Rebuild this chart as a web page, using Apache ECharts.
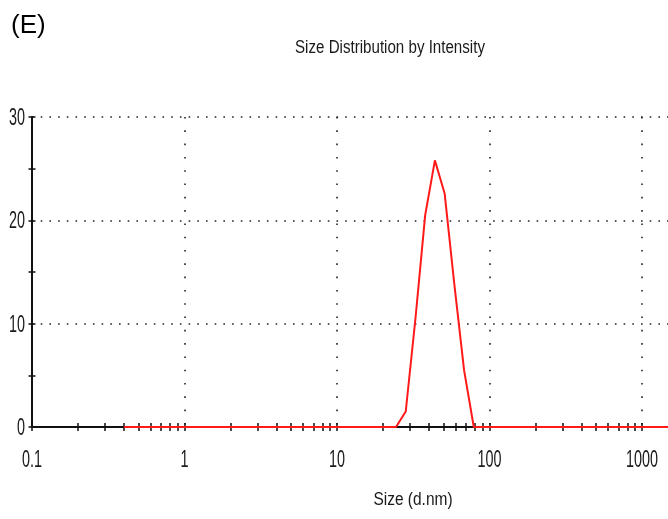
<!DOCTYPE html>
<html>
<head>
<meta charset="utf-8">
<script src="https://cdn.jsdelivr.net/npm/echarts@6/dist/echarts.min.js"></script>
<style>
html,body{margin:0;padding:0;background:#fff;overflow:hidden;}
#chart{width:668px;height:519px;}
</style>
</head>
<body>
<div id="chart"></div>
<script>
// Size bins (d.nm)
var sizes = [0.4, 0.4632, 0.5365, 0.6213, 0.7195, 0.8332, 0.9649, 1.117, 1.294, 1.499,
  1.736, 2.01, 2.328, 2.696, 3.122, 3.615, 4.187, 4.849, 5.615, 6.503, 7.531, 8.721,
  10.1, 11.7, 13.54, 15.69, 18.17, 21.04, 24.36, 28.21, 32.67, 37.84, 43.82, 50.75,
  58.77, 68.06, 78.82, 91.28, 105.7, 122.4, 141.8, 164.2, 190.1, 220.2, 255.0, 295.3,
  342.0, 396.1, 458.7, 531.2, 615.1, 712.4, 825.0, 955.4, 1106, 1281, 1484, 1718];
// Intensity (%)
var intensity = [0, 0, 0, 0, 0, 0, 0, 0, 0, 0,
  0, 0, 0, 0, 0, 0, 0, 0, 0, 0, 0, 0,
  0, 0, 0, 0, 0, 0, 0, 1.5, 10.5, 20.5, 25.8, 22.6,
  13.8, 5.5, 0, 0, 0, 0, 0, 0, 0, 0, 0, 0,
  0, 0, 0, 0, 0, 0, 0, 0, 0, 0, 0, 0];
var X_MIN = 0.1, X_MAX = 1479;
var xLabels = ['0.1', '1', '10', '100', '1000'];
var xGridValues = [0.1, 1, 10, 100, 1000, X_MAX]; // last one (plot edge) is suppressed
var xTicks = [0.1,0.2,0.3,0.4,0.5,0.6,0.7,0.8,0.9,
  1,2,3,4,5,6,7,8,9,
  10,20,30,40,50,60,70,80,90,
  100,200,300,400,500,600,700,800,900,
  1000];
var yLabels = ['0', '10', '20', '30'];
var yGridValues = [10, 20, 30];
var yTicks = [0, 5, 10, 15, 20, 25, 30];

var FONT = "'Liberation Sans', Arial, sans-serif";
var TXT = '#1a1a1a';

var data = sizes.map(function (s, i) { return [s, intensity[i]]; });

function xTickAxis(inside) {
  return {
    type: 'log', logBase: 10, min: X_MIN, max: X_MAX, position: 'bottom',
    axisLine: { show: !inside, onZero: false, lineStyle: { color: '#111', width: 2 } },
    axisTick: { show: true, inside: inside, length: 4, customValues: xTicks,
      lineStyle: { color: '#111', width: 1.5 } },
    minorTick: { show: false },
    axisLabel: { show: false },
    splitLine: { show: false }
  };
}
function yTickAxis(inside) {
  return {
    type: 'value', min: 0, max: 30, interval: 10, position: 'left',
    axisLine: { show: !inside, lineStyle: { color: '#111', width: 2 } },
    axisTick: { show: true, inside: inside, length: 3.5, customValues: yTicks,
      lineStyle: { color: '#111', width: 1.5 } },
    axisLabel: { show: false },
    splitLine: { show: false }
  };
}
var xGridAxis = {
  type: 'log', logBase: 10, min: X_MIN, max: X_MAX, position: 'bottom',
  axisLine: { show: false },
  axisTick: { show: false, customValues: xGridValues },
  axisLabel: { show: false },
  splitLine: { show: true, showMaxLine: false,
    lineStyle: { color: '#222', width: 1.6, type: [1.6, 11.7] } }
};
var yGridAxis = {
  type: 'value', min: 0, max: 30, interval: 10, position: 'left',
  axisLine: { show: false },
  axisTick: { show: false, customValues: yGridValues },
  axisLabel: { show: false },
  splitLine: { show: true, lineStyle: { color: '#222', width: 1.6, type: [1.6, 7.1] } }
};

var chart = echarts.init(document.getElementById('chart'), null, { renderer: 'canvas' });
chart.setOption({
  animation: false,
  backgroundColor: '#fff',
  grid: { left: 32, right: 0, top: 117, bottom: 92, containLabel: false },
  xAxis: [xTickAxis(false), xTickAxis(true), xGridAxis],
  yAxis: [yTickAxis(false), yTickAxis(true), yGridAxis],
  series: [{
    type: 'line', xAxisIndex: 0, yAxisIndex: 0, data: data,
    showSymbol: false, symbol: 'none', smooth: false, clip: true,
    lineStyle: { color: '#ff1a1a', width: 2 }, z: 3
  }]
});

// Tick labels placed through the axes' own scales (condensed look of the original)
var graphics = [
  { type: 'text', left: 11, top: 13,
    style: { text: '(E)', font: "26px 'Liberation Sans', Arial, sans-serif", fill: '#000' } },
  { type: 'text', x: 390, y: 48, scaleX: 0.84,
    style: { text: 'Size Distribution by Intensity', font: '18px ' + FONT, fill: TXT,
      textAlign: 'center', textVerticalAlign: 'middle' } },
  { type: 'text', x: 413, y: 500, scaleX: 0.86,
    style: { text: 'Size (d.nm)', font: '18px ' + FONT, fill: TXT,
      textAlign: 'center', textVerticalAlign: 'middle' } }
];
var y0 = chart.convertToPixel({ yAxisIndex: 0 }, 0);
xLabels.forEach(function (t) {
  var px = chart.convertToPixel({ xAxisIndex: 0 }, parseFloat(t));
  graphics.push({ type: 'text', x: px, y: y0 + 33, scaleX: 0.6,
    style: { text: t, font: '24px ' + FONT, fill: TXT, textAlign: 'center', textVerticalAlign: 'middle' } });
});
var x0 = chart.convertToPixel({ xAxisIndex: 0 }, X_MIN);
yLabels.forEach(function (t) {
  var py = chart.convertToPixel({ yAxisIndex: 0 }, parseFloat(t));
  graphics.push({ type: 'text', x: x0 - 7, y: py + 1.5, scaleX: 0.6,
    style: { text: t, font: '24px ' + FONT, fill: TXT, textAlign: 'right', textVerticalAlign: 'middle' } });
});
chart.setOption({ graphic: graphics });
</script>
</body>
</html>
